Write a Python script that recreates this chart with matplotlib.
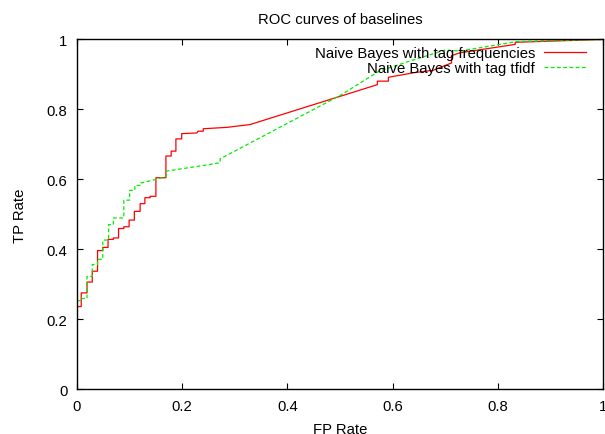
import matplotlib
matplotlib.use('Agg')
import matplotlib.pyplot as plt

# ROC curve points (FP rate, TP rate)
freq_fp = [0.0, 0.0, 0.008, 0.008, 0.019, 0.019, 0.029, 0.029, 0.039, 0.039,
           0.049, 0.049, 0.059, 0.059, 0.069, 0.069, 0.079, 0.079, 0.089, 0.089,
           0.099, 0.099, 0.109, 0.109, 0.120, 0.120, 0.129, 0.129, 0.139, 0.139,
           0.150, 0.150, 0.169, 0.169, 0.179, 0.179, 0.188, 0.188, 0.199, 0.199,
           0.228, 0.230, 0.240, 0.240, 0.285, 0.329, 0.571, 0.571, 0.592, 0.592,
           0.640, 0.677, 0.712, 0.712, 0.728, 0.833, 0.833, 0.994, 1.0]
freq_tp = [0.15, 0.237, 0.237, 0.276, 0.276, 0.307, 0.307, 0.338, 0.338, 0.397,
           0.397, 0.406, 0.406, 0.429, 0.429, 0.433, 0.433, 0.460, 0.460, 0.465,
           0.465, 0.484, 0.484, 0.509, 0.509, 0.531, 0.531, 0.548, 0.548, 0.552,
           0.552, 0.605, 0.605, 0.667, 0.667, 0.681, 0.681, 0.716, 0.716, 0.731,
           0.733, 0.738, 0.738, 0.745, 0.749, 0.757, 0.871, 0.881, 0.881, 0.892,
           0.905, 0.912, 0.933, 0.954, 0.962, 0.986, 0.992, 1.0, 1.0]

tfidf_fp = [0.0, 0.0, 0.008, 0.008, 0.019, 0.019, 0.029, 0.029, 0.039, 0.039,
            0.049, 0.049, 0.060, 0.060, 0.069, 0.069, 0.089, 0.089, 0.100, 0.100,
            0.110, 0.110, 0.121, 0.121, 0.150, 0.170, 0.170, 0.253, 0.272, 0.272,
            0.500, 0.575, 0.630, 0.700, 0.728, 0.836, 0.994, 1.0]
tfidf_tp = [0.20, 0.254, 0.254, 0.260, 0.260, 0.323, 0.323, 0.357, 0.357, 0.372,
            0.372, 0.427, 0.427, 0.471, 0.471, 0.490, 0.490, 0.541, 0.541, 0.569,
            0.569, 0.583, 0.583, 0.590, 0.600, 0.609, 0.624, 0.643, 0.648, 0.659,
            0.840, 0.910, 0.937, 0.970, 0.967, 0.994, 1.0, 1.0]

plt.rcParams['font.family'] = ['Liberation Sans', 'DejaVu Sans']
plt.rcParams['font.size'] = 10.7

fig = plt.figure(figsize=(6.05, 4.35), dpi=100)
ax = fig.add_axes([0.1273, 0.1023, 0.8694, 0.8046])

ax.plot(freq_fp, freq_tp, color='#ff0000', lw=0.9,
        label='Naive Bayes with tag frequencies')
ax.plot(tfidf_fp, tfidf_tp, color='#00ee00', lw=0.9, dashes=(3, 2),
        label='Naive Bayes with tag tfidf')

ax.set_xlim(0, 1)
ax.set_ylim(0, 1)
ax.set_xticks([0, 0.2, 0.4, 0.6, 0.8, 1])
ax.set_xticklabels(['0', '0.2', '0.4', '0.6', '0.8', '1'])
ax.set_yticks([0, 0.2, 0.4, 0.6, 0.8, 1])
ax.set_yticklabels(['0', '0.2', '0.4', '0.6', '0.8', '1'])
ax.tick_params(direction='in', length=4.5, width=0.8, top=True, right=True,
               pad=7, labelsize=10.7)
for s in ax.spines.values():
    s.set_linewidth(1.0)

ax.set_title('ROC curves of baselines', fontsize=10.7, pad=12)
ax.set_xlabel('FP Rate', labelpad=6)
ax.set_ylabel('TP Rate', labelpad=14)

ax.legend(loc='upper right', bbox_to_anchor=(0.987, 1.01), frameon=False,
          markerfirst=False, handlelength=2.8, handletextpad=0.6,
          labelspacing=0.05, borderpad=0.2, fontsize=10.7)

fig.savefig('out.png', dpi=100)
